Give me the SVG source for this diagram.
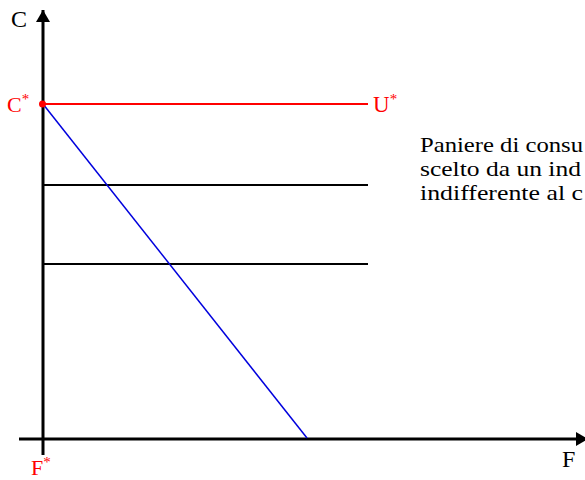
<svg xmlns="http://www.w3.org/2000/svg" width="585" height="480" viewBox="0 0 585 480">
<style>
.t{font-family:"Liberation Serif","DejaVu Serif","Times New Roman",serif}
.red{fill:#ff0000}
.blk{fill:#000}
.ind{stroke:#000;stroke-width:2;fill:none}
.note{font-size:21px}
</style>
<defs>
<marker id="ah" viewBox="0 0 12 14" refX="12" refY="7" markerWidth="12" markerHeight="14" markerUnits="userSpaceOnUse" orient="auto">
<path d="M0,0 L12,7 L0,14 Z" fill="#000"/>
</marker>
</defs>
<rect width="585" height="480" fill="#fff"/>
<g id="connectors">
<line id="axis-c" x1="43" y1="455" x2="43" y2="10" stroke="#000" stroke-width="3" marker-end="url(#ah)"/>
<line id="axis-f" x1="19" y1="439" x2="588" y2="439" stroke="#000" stroke-width="3" marker-end="url(#ah)"/>
<line id="ind1" class="ind" x1="43" y1="185" x2="368" y2="185"/>
<line id="ind2" class="ind" x1="43" y1="264" x2="368" y2="264"/>
<line id="budget" x1="43" y1="104" x2="307" y2="438" stroke="#0000dd" stroke-width="1.5"/>
<line id="ustar" x1="43" y1="104" x2="368" y2="104" stroke="#ff0000" stroke-width="2"/>
</g>
<g id="point-cstar">
<circle cx="42.5" cy="104" r="3.5" fill="#ff0000"/>
</g>
<g id="label-c"><text class="t blk" x="11" y="27" font-size="24">C</text></g>
<g id="label-f"><text class="t blk" x="562" y="467" font-size="24">F</text></g>
<g id="label-cstar"><text class="t red" x="7" y="112" font-size="22">C<tspan font-size="15" dy="-8">*</tspan></text></g>
<g id="label-ustar"><text class="t red" x="373" y="112" font-size="23">U<tspan font-size="15" dy="-8">*</tspan></text></g>
<g id="label-fstar"><text class="t red" x="31" y="475" font-size="22">F<tspan font-size="15" dy="-8">*</tspan></text></g>
<g id="note">
<text class="t blk note" x="420" y="152" textLength="163" lengthAdjust="spacingAndGlyphs">Paniere di consu</text>
<text class="t blk note" x="420" y="176" textLength="161" lengthAdjust="spacingAndGlyphs">scelto da un ind</text>
<text class="t blk note" x="420" y="200" textLength="163" lengthAdjust="spacingAndGlyphs">indifferente al c</text>
</g>
</svg>
